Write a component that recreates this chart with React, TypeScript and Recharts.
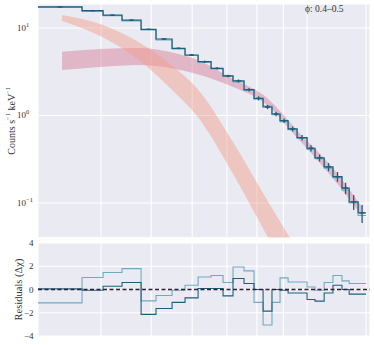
import React from 'react';
import { ComposedChart, Line, Area, Scatter, ErrorBar, XAxis, YAxis, CartesianGrid, ReferenceLine } from 'recharts';

// Energy bin edges (keV)
const binEdges = [3.022, 3.676, 4.036, 4.391, 4.78, 5.108, 5.486, 5.812, 6.159, 6.525, 6.882, 7.194, 7.555, 7.899, 8.224, 8.555, 8.868, 9.191, 9.566, 10.0, 10.36, 10.79, 11.22, 11.68, 12.06, 12.55, 13.0];
// Counts s^-1 keV^-1
const countsA = [17.4, 15.8, 14.0, 12.3, 9.66, 7.48, 5.86, 4.91, 4.12, 3.46, 2.83, 2.48, 1.97, 1.57, 1.25, 1.04, 0.873, 0.702, 0.557, 0.422, 0.327, 0.258, 0.2, 0.148, 0.103, 0.077];
const countsB = [17.2, 15.5, 13.8, 12.0, 9.5, 7.3, 5.75, 4.85, 4.05, 3.4, 2.8, 2.42, 1.93, 1.53, 1.28, 1.02, 0.85, 0.69, 0.55, 0.41, 0.32, 0.25, 0.195, 0.14, 0.1, 0.072];
const errA = [0.3, 0.28, 0.26, 0.24, 0.2, 0.17, 0.15, 0.13, 0.12, 0.11, 0.1, 0.1, 0.09, 0.085, 0.07, 0.06, 0.05, 0.045, 0.04, 0.035, 0.03, 0.028, 0.026, 0.022, 0.02, 0.018];
// Residuals
const residDark = [0.05, -0.06, 0.28, 0.6, -2.14, -1.63, -1.11, -0.72, 0.09, 0.09, -0.55, 0.94, 0.51, 0.0, -1.86, 0.0, -0.06, -0.3, -0.3, -0.86, -1.0, -0.3, 0.37, 0.0, -0.4, -0.4];
const residLight = [-1.15, 1.03, 1.46, 1.8, -0.98, -0.51, -0.06, 0.37, 1.08, 1.2, 0.6, 1.94, 1.6, -1.11, -3.06, -1.11, 1.0, 0.65, 0.65, 0.22, -0.06, 0.6, 1.2, 0.74, 0.51, 0.51];
// Model component bands
const pinkEnergy = [3.363, 3.982, 4.759, 5.437, 6.214, 7.194, 8.224, 9.695, 11.225, 12.774];
const pinkLow = [3.31, 3.58, 3.78, 3.49, 2.9, 2.12, 1.43, 0.51, 0.19, 0.07];
const pinkHigh = [5.36, 5.75, 5.91, 5.32, 4.2, 2.61, 1.72, 0.62, 0.25, 0.09];
const salmonEnergy = [3.363, 3.982, 4.759, 5.437, 6.214, 7.194, 8.372, 9.273];
const salmonLow = [12.02, 8.1, 4.2, 2.06, 0.888, 0.2145, 0.042, 0.0135];
const salmonHigh = [14.08, 11.11, 6.74, 3.88, 1.86, 0.498, 0.1082, 0.0398];

const xGridTicks = [4, 5, 6, 7, 8, 9, 10, 13];
const xDomain = [3.022, 13.23];
const yTicksTop = [0.1, 1, 10];
const yDomainTop = [0.0403, 18.8];
const yTicksRes = [-4, -2, 0, 2, 4];
const phaseLabel = 'ϕ: 0.4–0.5';

const FONT = '"Liberation Serif", "DejaVu Serif", serif';
const DARK = '#1c607d';
const LIGHT = '#72a9c2';

const toStep = (edges: number[], vals: number[]) =>
  edges.map((x, i) => ({ x, y: vals[Math.min(i, vals.length - 1)] }));

const stepA = toStep(binEdges, countsA);
const stepB = toStep(binEdges, countsB);
const resDarkStep = toStep(binEdges, residDark);
const resLightStep = toStep(binEdges, residLight);
const pointsA = countsA.map((y, i) => ({ x: Math.sqrt(binEdges[i] * binEdges[i + 1]), y, err: errA[i] }));
const pinkData = pinkEnergy.map((x, i) => ({ x, r: [pinkLow[i], pinkHigh[i]] }));
const salmonData = salmonEnergy.map((x, i) => ({ x, r: [salmonLow[i], salmonHigh[i]] }));

const EmptyTick = () => <g />;

const LogTick = (props: any) => {
  const { x, y, payload } = props;
  const e = Math.round(Math.log10(payload.value));
  const es = e < 0 ? '\u2212' + Math.abs(e) : String(e);
  return (
    <text x={x - 13} y={y + 3} fontFamily={FONT} fontSize={9} fill="#333" textAnchor="start">
      10<tspan dy={-4} fontSize={6.5}>{es}</tspan>
    </text>
  );
};

const ResTick = (props: any) => {
  const { x, y, payload } = props;
  const v = payload.value;
  const s = v < 0 ? '\u2212' + Math.abs(v) : String(v);
  return (
    <text x={x + 3.5} y={y + 3} fontFamily={FONT} fontSize={9} fill="#333" textAnchor="end">{s}</text>
  );
};

const CrossShape = (props: any) => {
  const { cx, cy } = props;
  if (cx == null || cy == null) return null;
  return <line x1={cx - 2.5} x2={cx + 2.5} y1={cy} y2={cy} stroke={DARK} strokeWidth={1.3} />;
};

const topLabel = (props: any) => {
  const vb = props.viewBox;
  const cx = vb.x + 3;
  const cy = vb.y + vb.height / 2;
  return (
    <text x={cx} y={cy} transform={`rotate(-90 ${cx} ${cy})`} textAnchor="middle" dominantBaseline="central" fontFamily={FONT} fontSize={10} fill="#333">
      Counts s<tspan dy={-4} fontSize={6.5}>{'\u22121'}</tspan><tspan dy={4}> keV</tspan><tspan dy={-4} fontSize={6.5}>{'\u22121'}</tspan>
    </text>
  );
};

const resLabel = (props: any) => {
  const vb = props.viewBox;
  const cx = vb.x + 10;
  const cy = vb.y + vb.height / 2;
  return (
    <text x={cx} y={cy} transform={`rotate(-90 ${cx} ${cy})`} textAnchor="middle" dominantBaseline="central" fontFamily={FONT} fontSize={10.5} fill="#333">
      Residuals (Δχ)
    </text>
  );
};

export default function App() {
  return (
    <div style={{ position: 'absolute', left: 0, top: 0, width: 374, height: 345, background: '#fff' }}>
      <div style={{ position: 'absolute', left: 0, top: 0 }}>
        <ComposedChart width={374} height={240} margin={{ top: 4, right: 4, bottom: 2.5, left: 8 }}>
          <CartesianGrid fill="#eaeaf2" stroke="#ffffff" strokeWidth={1.1} />
          <XAxis dataKey="x" type="number" scale="log" domain={xDomain} allowDataOverflow ticks={xGridTicks} interval={0} tick={<EmptyTick />} axisLine={false} tickLine={false} height={0} />
          <YAxis type="number" scale="log" domain={yDomainTop} allowDataOverflow ticks={yTicksTop} interval={0} tick={<LogTick />} axisLine={false} tickLine={false} width={30} label={{ content: topLabel }} />
          <Area data={pinkData} dataKey="r" type="monotone" stroke="none" fill="#d4708c" fillOpacity={0.42} isAnimationActive={false} />
          <Area data={salmonData} dataKey="r" type="monotone" stroke="none" fill="#f29c88" fillOpacity={0.45} isAnimationActive={false} />
          <Line data={stepB} dataKey="y" type="stepAfter" stroke={LIGHT} strokeWidth={1.1} dot={false} isAnimationActive={false} />
          <Line data={stepA} dataKey="y" type="stepAfter" stroke={DARK} strokeWidth={1.2} dot={false} isAnimationActive={false} />
          <Scatter data={pointsA} dataKey="y" shape={<CrossShape />} isAnimationActive={false}>
            <ErrorBar dataKey="err" direction="y" width={0} stroke={DARK} strokeWidth={1.3} />
          </Scatter>
        </ComposedChart>
      </div>
      <div style={{ position: 'absolute', left: 305, top: 3, fontFamily: FONT, fontSize: 9.5, color: '#333', whiteSpace: 'nowrap', lineHeight: '12px' }}>
        {phaseLabel}
      </div>
      <div style={{ position: 'absolute', left: 0, top: 232 }}>
        <ComposedChart width={374} height={113} margin={{ top: 11, right: 4, bottom: 9, left: 8 }}>
          <CartesianGrid fill="#eaeaf2" stroke="#ffffff" strokeWidth={1.1} />
          <XAxis dataKey="x" type="number" scale="log" domain={xDomain} allowDataOverflow ticks={xGridTicks} interval={0} tick={<EmptyTick />} axisLine={false} tickLine={false} height={0} />
          <YAxis type="number" domain={[-4, 4]} ticks={yTicksRes} interval={0} tick={<ResTick />} axisLine={false} tickLine={false} width={30} label={{ content: resLabel }} />
          <Line data={resLightStep} dataKey="y" type="stepAfter" stroke={LIGHT} strokeWidth={1.1} dot={false} isAnimationActive={false} />
          <Line data={resDarkStep} dataKey="y" type="stepAfter" stroke={DARK} strokeWidth={1.1} dot={false} isAnimationActive={false} />
          <ReferenceLine y={0} stroke="#2a1f33" strokeDasharray="4 2.5" strokeWidth={1.3} />
        </ComposedChart>
      </div>
    </div>
  );
}
